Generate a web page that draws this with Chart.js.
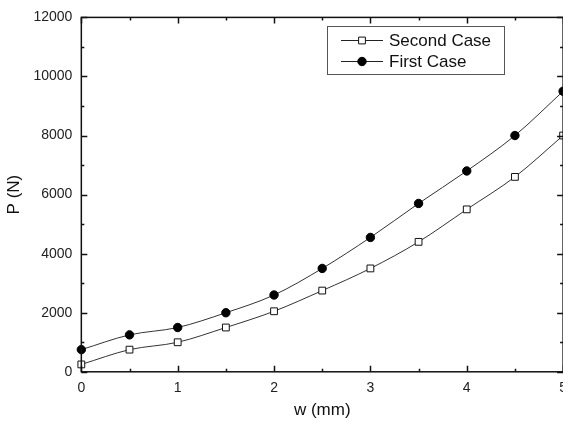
<!DOCTYPE html>
<html>
<head>
<meta charset="utf-8">
<script src="https://cdn.jsdelivr.net/npm/chart.js@4.4.1/dist/chart.umd.min.js"></script>
<style>
html,body{margin:0;padding:0;background:#fff;overflow:hidden;width:563px;height:422px;}
#wrap{position:absolute;left:0;top:0;width:575px;height:422px;}
</style>
</head>
<body>
<div id="wrap"><canvas id="c" width="575" height="422"></canvas></div>
<script>
const wValues = [0, 0.5, 1, 1.5, 2, 2.5, 3, 3.5, 4, 4.5, 5];
const secondCase = [250, 750, 1000, 1500, 2050, 2750, 3500, 4400, 5500, 6600, 8000];
const firstCase = [750, 1250, 1500, 2000, 2600, 3500, 4550, 5700, 6800, 8000, 9500];
const xTicks = [0, 1, 2, 3, 4, 5];
const yTicks = [0, 2000, 4000, 6000, 8000, 10000, 12000];
const seriesNames = ['Second Case', 'First Case'];

const FONT = "'Liberation Sans', Arial, sans-serif";

const framePlugin = {
  id: 'frame',
  afterDraw(chart) {
    const {ctx, chartArea: a, scales: {x, y}} = chart;
    ctx.save();
    ctx.strokeStyle = '#111';
    ctx.lineWidth = 1.5;
    ctx.strokeRect(a.left, a.top, a.right - a.left, a.bottom - a.top);
    ctx.beginPath();
    for (let v = 0; v <= 5.0001; v += 0.5) {
      const px = Math.round(x.getPixelForValue(v)) + 0.5;
      const len = Math.abs(v - Math.round(v)) < 1e-6 ? 6 : 3;
      ctx.moveTo(px, a.bottom); ctx.lineTo(px, a.bottom - len);
      ctx.moveTo(px, a.top); ctx.lineTo(px, a.top + len);
    }
    for (let v = 0; v <= 12000; v += 1000) {
      const py = Math.round(y.getPixelForValue(v)) + 0.5;
      const len = v % 2000 === 0 ? 6 : 3;
      ctx.moveTo(a.left, py); ctx.lineTo(a.left + len, py);
      ctx.moveTo(a.right, py); ctx.lineTo(a.right - len, py);
    }
    ctx.stroke();

    // legend
    const bx = 327, by = 26, bw = 177, bh = 48;
    ctx.fillStyle = '#fff';
    ctx.fillRect(bx, by, bw, bh);
    ctx.strokeStyle = '#555';
    ctx.lineWidth = 1;
    ctx.strokeRect(bx + 0.5, by + 0.5, bw, bh);
    const rows = [40, 61];
    chart.data.datasets.forEach((ds, i) => {
      const ry = rows[i] + 0.5;
      ctx.strokeStyle = '#222';
      ctx.lineWidth = 1;
      ctx.beginPath();
      ctx.moveTo(341, ry); ctx.lineTo(383, ry);
      ctx.stroke();
      ctx.fillStyle = ds.pointBackgroundColor;
      ctx.strokeStyle = ds.pointBorderColor;
      ctx.beginPath();
      if (ds.pointStyle === 'rect') {
        const s = ds.pointRadius * Math.SQRT1_2;
        ctx.rect(362 - s, ry - s, 2 * s, 2 * s);
      } else {
        ctx.arc(362, ry, ds.pointRadius, 0, Math.PI * 2);
      }
      ctx.fill(); ctx.stroke();
      ctx.fillStyle = '#111';
      ctx.font = '17px ' + FONT;
      ctx.textBaseline = 'middle';
      ctx.textAlign = 'left';
      ctx.fillText(ds.label, 389, ry + 1);
    });
    ctx.restore();
  }
};

new Chart(document.getElementById('c'), {
  type: 'line',
  data: {
    datasets: [
      {
        label: seriesNames[0],
        data: wValues.map((w, i) => ({x: w, y: secondCase[i]})),
        borderColor: '#333', borderWidth: 1,
        pointStyle: 'rect', pointRadius: 4.8, pointBorderWidth: 1,
        pointBackgroundColor: '#fff', pointBorderColor: '#111',
        tension: 0.4, cubicInterpolationMode: 'monotone', fill: false
      },
      {
        label: seriesNames[1],
        data: wValues.map((w, i) => ({x: w, y: firstCase[i]})),
        borderColor: '#333', borderWidth: 1,
        pointStyle: 'circle', pointRadius: 4.2, pointBorderWidth: 1,
        pointBackgroundColor: '#000', pointBorderColor: '#000',
        tension: 0.4, cubicInterpolationMode: 'monotone', fill: false
      }
    ]
  },
  options: {
    responsive: false,
    animation: false,
    clip: false,
    layout: {padding: {left: 0, right: 0, top: 6, bottom: 1}},
    plugins: {legend: {display: false}, tooltip: {enabled: false}},
    scales: {
      x: {
        type: 'linear', min: 0, max: 5,
        afterBuildTicks: s => { s.ticks = xTicks.map(v => ({value: v})); },
        ticks: {font: {size: 14, family: FONT}, color: '#222', padding: 8, maxRotation: 0,
          callback: v => String(v)},
        grid: {display: false, drawTicks: false},
        border: {display: false},
        title: {display: true, text: 'w (mm)', font: {size: 17, family: FONT}, color: '#111', padding: {top: -4, bottom: 0}}
      },
      y: {
        type: 'linear', min: 0, max: 12000,
        afterBuildTicks: s => { s.ticks = yTicks.map(v => ({value: v})); },
        ticks: {font: {size: 14, family: FONT}, color: '#222', padding: 9,
          callback: v => String(v)},
        grid: {display: false, drawTicks: false},
        border: {display: false},
        title: {display: true, text: 'P (N)', font: {size: 17, family: FONT}, color: '#111', padding: {top: 4, bottom: 0}}
      }
    }
  },
  plugins: [framePlugin]
});
</script>
</body>
</html>
